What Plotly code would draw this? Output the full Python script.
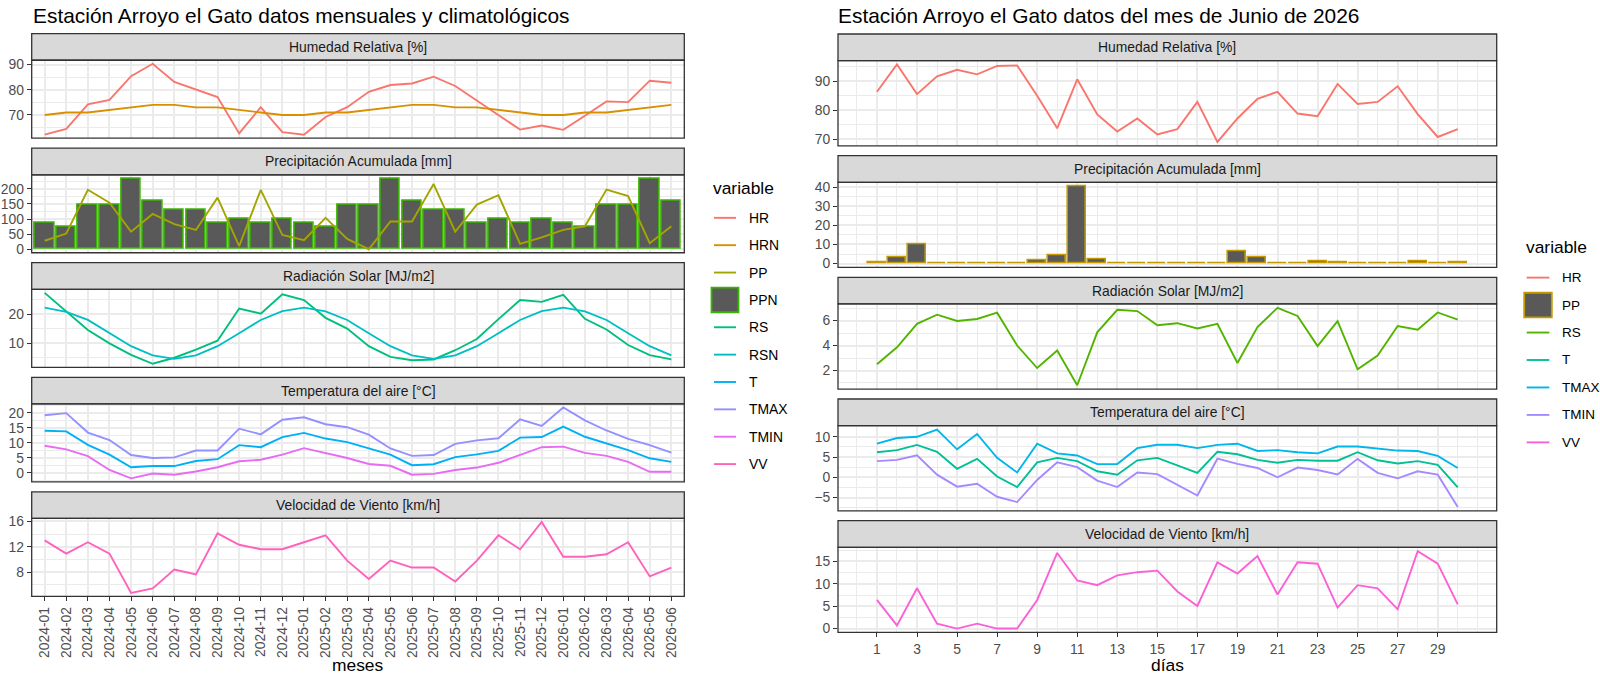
import plotly.graph_objects as go

W, H = 1600, 676

# ---------------- data: monthly panel ----------------
meses = ["2024-01", "2024-02", "2024-03", "2024-04", "2024-05", "2024-06",
         "2024-07", "2024-08", "2024-09", "2024-10", "2024-11", "2024-12",
         "2025-01", "2025-02", "2025-03", "2025-04", "2025-05", "2025-06",
         "2025-07", "2025-08", "2025-09", "2025-10", "2025-11", "2025-12",
         "2026-01", "2026-02", "2026-03", "2026-04", "2026-05", "2026-06"]

HR_m = [62.2, 64.5, 74.2, 76.0, 85.4, 90.3, 83.1, 80.0, 77.1, 62.7, 73.1, 63.2,
        62.2, 69.2, 73.1, 79.2, 81.9, 82.5, 85.2, 81.5, 75.8, 70.0, 64.2, 65.8,
        64.1, 69.7, 75.4, 75.1, 83.6, 82.8]
HRN_m = [70, 71, 71, 72, 73, 74, 74, 73, 73, 72, 71, 70,
         70, 71, 71, 72, 73, 74, 74, 73, 73, 72, 71, 70,
         70, 71, 71, 72, 73, 74]
PP_m = [28, 52, 197, 154, 58, 117, 83, 64, 171, 10, 197, 47,
        30, 104, 34, 0, 92, 92, 216, 58, 148, 179, 18, 39,
        64, 76, 198, 176, 20, 76]
PPN_m = [87, 73, 147, 147, 235, 161, 131, 131, 87, 102, 87, 102,
         87, 73, 147, 147, 235, 161, 131, 131, 87, 102, 87, 102,
         87, 73, 147, 147, 235, 161]
RS_m = [27.4, 21.1, 14.5, 9.9, 5.9, 2.8, 4.9, 7.7, 10.8, 22.0, 20.2, 26.9,
        24.9, 18.75, 15.0, 8.9, 5.2, 4.0, 4.3, 7.5, 11.4, 18.3, 24.9, 24.3,
        26.7, 18.4, 14.7, 9.3, 5.8, 4.3]
RSN_m = [22.3, 20.8, 18.0, 13.4, 8.9, 5.7, 4.5, 5.7, 8.9, 13.4, 18.0, 21.1,
         22.3, 21.0, 18.0, 13.4, 8.9, 5.7, 4.5, 5.7, 8.9, 13.4, 18.0, 21.1,
         22.3, 21.0, 18.0, 13.4, 8.9, 5.7]
TMAX_m = [19.2, 19.9, 13.4, 10.9, 5.9, 4.9, 5.1, 7.4, 7.4, 14.7, 12.8, 17.7,
          18.5, 16.2, 15.2, 12.7, 8.1, 5.6, 5.9, 9.6, 10.8, 11.5, 17.8, 15.6,
          21.8, 17.5, 14.1, 11.3, 9.2, 6.7]
T_m = [14.0, 13.8, 9.3, 6.0, 1.8, 2.2, 2.2, 3.9, 4.5, 9.2, 8.5, 11.9,
       13.3, 11.4, 10.2, 8.2, 6.0, 2.5, 2.8, 5.2, 6.1, 7.3, 11.7, 11.9,
       15.4, 12.0, 9.8, 7.5, 4.8, 3.6]
TMIN_m = [9.0, 7.8, 5.5, 0.9, -1.9, -0.3, -0.7, 0.4, 1.8, 3.8, 4.3, 6.0,
          8.2, 6.6, 4.9, 2.9, 2.3, -0.7, -0.4, 0.9, 1.7, 3.3, 5.9, 8.5,
          8.7, 6.6, 5.6, 3.6, 0.3, 0.3]
VV_m = [13.0, 10.9, 12.7, 10.9, 4.7, 5.4, 8.4, 7.6, 14.1, 12.3, 11.6, 11.6,
        12.7, 13.8, 9.8, 6.9, 9.8, 8.7, 8.7, 6.5, 9.8, 13.8, 11.6, 15.9,
        10.4, 10.4, 10.8, 12.7, 7.3, 8.7]

# ---------------- data: daily panel (June 2026) ----------------
dias = [1, 2, 3, 4, 5, 6, 7, 8, 9, 10, 11, 12, 13, 14, 15,
        16, 17, 18, 19, 20, 21, 22, 23, 24, 25, 26, 27, 28, 29, 30]
dias_ticks = [1, 3, 5, 7, 9, 11, 13, 15, 17, 19, 21, 23, 25, 27, 29]

HR_d = [86.4, 95.8, 85.6, 91.7, 94.0, 92.4, 95.3, 95.5, 85.0, 73.8, 90.7, 78.6,
        72.7, 77.2, 71.7, 73.5, 82.9, 69.1, 77.2, 84.0, 86.4, 78.9, 78.0, 89.1,
        82.2, 82.9, 88.3, 78.7, 70.8, 73.5]
PP_d = [0.9, 3.1, 10.0, 0, 0, 0, 0, 0, 1.9, 4.3, 40.5, 2.4,
        0, 0, 0, 0, 0, 0, 6.4, 3.3, 0, 0, 1.4, 0.6,
        0.4, 0.4, 0, 1.0, 0, 0.5]
RS_d = [2.5, 3.86, 5.74, 6.47, 5.97, 6.13, 6.63, 4.0, 2.2, 3.6, 0.82, 5.06,
        6.86, 6.76, 5.63, 5.79, 5.37, 5.74, 2.6, 5.48, 7.02, 6.37, 3.96, 5.95,
        2.1, 3.2, 5.56, 5.27, 6.65, 6.08]
T_d = [6.2, 6.7, 8.0, 6.3, 2.1, 4.55, 0.2, -2.4, 3.7, 4.8, 4.0, 1.5,
       0.65, 4.2, 4.8, 3.0, 1.1, 6.3, 5.7, 4.3, 3.6, 4.3, 4.1, 4.1,
       6.2, 4.2, 3.4, 4.0, 3.1, -2.5]
TMAX_d = [8.3, 9.7, 10.0, 11.8, 6.9, 10.7, 4.8, 1.2, 8.3, 5.9, 5.4, 3.25,
          3.3, 7.2, 8.05, 8.05, 7.2, 8.0, 8.3, 6.5, 6.7, 6.2, 5.9, 7.6,
          7.6, 7.1, 6.6, 6.5, 5.3, 2.3]
TMIN_d = [4.0, 4.3, 5.45, 0.65, -2.3, -1.6, -4.8, -6.1, -0.65, 3.7, 2.5, -0.8,
          -2.4, 1.2, 0.8, -1.8, -4.5, 4.6, 3.3, 2.3, 0.0, 2.4, 1.8, 0.7,
          4.55, 1.1, -0.25, 1.5, 0.65, -7.3]
VV_d = [6.4, 0.7, 9.0, 1.1, 0.0, 1.1, 0.0, 0.0, 6.4, 16.9, 10.75, 9.7,
        11.9, 12.6, 12.95, 8.3, 5.05, 14.8, 12.3, 16.2, 7.6, 14.8, 14.5, 4.7,
        9.7, 9.0, 4.3, 17.3, 14.5, 5.4]

# ---------------- text ----------------
title_left = "Estación Arroyo el Gato datos mensuales y climatológicos"
title_right = "Estación Arroyo el Gato datos del mes de Junio de 2026"
strip_labels = ["Humedad Relativa [%]", "Precipitación Acumulada [mm]",
                "Radiación Solar [MJ/m2]", "Temperatura del aire [°C]",
                "Velocidad de Viento [km/h]"]
legend_left = ["HR", "HRN", "PP", "PPN", "RS", "RSN", "T", "TMAX", "TMIN", "VV"]
legend_right = ["HR", "PP", "RS", "T", "TMAX", "TMIN", "VV"]

col_left = {"HR": "#F8766D", "HRN": "#D89000", "PP": "#A3A500", "PPN": "#39B600",
            "RS": "#00BF7D", "RSN": "#00BFC4", "T": "#00B0F6", "TMAX": "#9590FF",
            "TMIN": "#E76BF3", "VV": "#FF62BC"}
col_right = {"HR": "#F8766D", "PP": "#C49A00", "RS": "#53B400", "T": "#00C094",
             "TMAX": "#00B6EB", "TMIN": "#A58AFF", "VV": "#FB61D7"}

FONT = "Liberation Sans, Arial, Helvetica, sans-serif"
BAR_FILL = "#595959"
GRID = "#EBEBEB"
DARK = "#333333"
TICKC = "#4D4D4D"
SMALL = 13.9
BASE = 17.4
TITLE = 20.9
LW = 1.9


def fx(px):
    return px / W


def fy(py):
    return 1 - py / H


def erange(vals, include_zero=False):
    lo, hi = min(vals), max(vals)
    if include_zero:
        lo = min(lo, 0)
    d = (hi - lo) * 0.05
    return [lo - d, hi + d]


# ---------------- geometry (pixels) ----------------
LX0, LX1 = 31.7, 684.3
RX0, RX1 = 838.0, 1496.7
L_tops = [29.0, 145.1, 261.2, 377.3, 493.4]
R_tops = [29.4, 152.7, 276.0, 399.3, 522.6]
STRIP_H = 27.0
L_PH = 79.0
R_PH = 86.3

fig = go.Figure()
shapes = []
annotations = []
layout_axes = {}

left_series = [
    [("HR", HR_m, "line"), ("HRN", HRN_m, "line")],
    [("PPN", PPN_m, "bar"), ("PP", PP_m, "line")],
    [("RS", RS_m, "line"), ("RSN", RSN_m, "line")],
    [("T", T_m, "line"), ("TMAX", TMAX_m, "line"), ("TMIN", TMIN_m, "line")],
    [("VV", VV_m, "line")],
]
right_series = [
    [("HR", HR_d, "line")],
    [("PP", PP_d, "bar")],
    [("RS", RS_d, "line")],
    [("T", T_d, "line"), ("TMAX", TMAX_d, "line"), ("TMIN", TMIN_d, "line")],
    [("VV", VV_d, "line")],
]
left_dticks = [10, 50, 10, 5, 4]
right_dticks = [10, 10, 2, 5, 5]

tickfont = dict(family=FONT, size=SMALL, color=TICKC)

# x range for the daily panels (bars of width 0.9, 5% expansion)
dx_lo, dx_hi = min(dias) - 0.45, max(dias) + 0.45
dpad = (dx_hi - dx_lo) * 0.05
day_range = [dx_lo - dpad, dx_hi + dpad]

for side in ("L", "R"):
    tops = L_tops if side == "L" else R_tops
    ph = L_PH if side == "L" else R_PH
    x0, x1 = (LX0, LX1) if side == "L" else (RX0, RX1)
    series = left_series if side == "L" else right_series
    dticks = left_dticks if side == "L" else right_dticks
    cols = col_left if side == "L" else col_right
    xs = meses if side == "L" else dias
    for i in range(5):
        n = i + 1 if side == "L" else i + 6
        xa = "x" if n == 1 else f"x{n}"
        ya = "y" if n == 1 else f"y{n}"
        st = tops[i]
        pt = st + STRIP_H
        pb = pt + ph
        bottom = (i == 4)
        vals_all = []
        has_bar = False
        for name, vals, kind in series[i]:
            vals_all += list(vals)
            if kind == "bar":
                has_bar = True
                fig.add_trace(go.Bar(
                    x=xs, y=vals, width=0.9, name=name, showlegend=False,
                    marker=dict(color=BAR_FILL, line=dict(color=cols[name], width=1.6)),
                    xaxis=xa, yaxis=ya))
            else:
                fig.add_trace(go.Scatter(
                    x=xs, y=vals, mode="lines", name=name, showlegend=False,
                    line=dict(color=cols[name], width=LW),
                    xaxis=xa, yaxis=ya))
        yr = erange(vals_all, include_zero=has_bar)
        xkey = "xaxis" if n == 1 else f"xaxis{n}"
        ykey = "yaxis" if n == 1 else f"yaxis{n}"
        xdict = dict(domain=[fx(x0), fx(x1)], anchor=ya, showgrid=True,
                     gridcolor=GRID, gridwidth=1.5, zeroline=False, showline=False,
                     showticklabels=bottom, ticks="outside" if bottom else "",
                     ticklen=4, tickcolor=DARK, tickwidth=1.4, tickfont=tickfont)
        if side == "L":
            xdict.update(type="category", categoryorder="array", categoryarray=meses,
                         range=[-0.6, len(meses) - 0.4], tickangle=-90)
        else:
            xdict.update(type="linear", range=day_range, tickmode="array",
                         tickvals=dias_ticks,
                         minor=dict(dtick=1, tick0=0, showgrid=True, gridcolor=GRID,
                                    gridwidth=0.8, ticks=""))
        layout_axes[xkey] = xdict
        layout_axes[ykey] = dict(
            domain=[fy(pb), fy(pt)], anchor=xa, range=yr, showgrid=True,
            gridcolor=GRID, gridwidth=1.5, zeroline=False, showline=False,
            tick0=0, dtick=dticks[i], ticks="outside", ticklen=4, tickcolor=DARK,
            tickwidth=1.4, tickfont=tickfont,
            minor=dict(dtick=dticks[i] / 2, showgrid=True, gridcolor=GRID,
                       gridwidth=0.8, ticks=""))
        # strip
        shapes.append(dict(type="rect", xref="paper", yref="paper",
                           x0=fx(x0), x1=fx(x1), y0=fy(pt), y1=fy(st),
                           fillcolor="#D9D9D9", line=dict(color=DARK, width=1.3),
                           layer="above"))
        annotations.append(dict(text=strip_labels[i], xref="paper", yref="paper",
                                x=fx((x0 + x1) / 2), y=fy((st + pt) / 2),
                                showarrow=False, xanchor="center", yanchor="middle",
                                font=dict(family=FONT, size=SMALL, color="#1A1A1A")))
        # panel border
        shapes.append(dict(type="rect", xref="paper", yref="paper",
                           x0=fx(x0), x1=fx(x1), y0=fy(pb), y1=fy(pt),
                           fillcolor="rgba(0,0,0,0)", line=dict(color=DARK, width=1.3),
                           layer="above"))

# titles
annotations.append(dict(text=title_left, xref="paper", yref="paper", x=fx(31), y=fy(11),
                        showarrow=False, xanchor="left", yanchor="middle",
                        font=dict(family=FONT, size=TITLE, color="black")))
annotations.append(dict(text=title_right, xref="paper", yref="paper", x=fx(836), y=fy(11),
                        showarrow=False, xanchor="left", yanchor="middle",
                        font=dict(family=FONT, size=TITLE, color="black")))
# axis titles
annotations.append(dict(text="meses", xref="paper", yref="paper", x=fx((LX0 + LX1) / 2),
                        y=fy(668.5), showarrow=False, xanchor="center", yanchor="middle",
                        font=dict(family=FONT, size=BASE, color="black")))
annotations.append(dict(text="días", xref="paper", yref="paper", x=fx((RX0 + RX1) / 2),
                        y=fy(668.5), showarrow=False, xanchor="center", yanchor="middle",
                        font=dict(family=FONT, size=BASE, color="black")))


# legends (drawn as keys + text)
def draw_legend(names, cols, bar_name, tx, ty, key_x0, key_x1, lab_x, y0, step, lab_size):
    annotations.append(dict(text="variable", xref="paper", yref="paper", x=fx(tx), y=fy(ty),
                            showarrow=False, xanchor="left", yanchor="middle",
                            font=dict(family=FONT, size=BASE, color="black")))
    for k, nm in enumerate(names):
        yy = y0 + k * step
        if nm == bar_name:
            shapes.append(dict(type="rect", xref="paper", yref="paper",
                               x0=fx(key_x0 - 2.5), x1=fx(key_x1 + 2.5),
                               y0=fy(yy + 12.5), y1=fy(yy - 12.5),
                               fillcolor=BAR_FILL, line=dict(color=cols[nm], width=1.8)))
        else:
            shapes.append(dict(type="line", xref="paper", yref="paper",
                               x0=fx(key_x0), x1=fx(key_x1), y0=fy(yy), y1=fy(yy),
                               line=dict(color=cols[nm], width=LW)))
        annotations.append(dict(text=nm, xref="paper", yref="paper", x=fx(lab_x), y=fy(yy),
                                showarrow=False, xanchor="left", yanchor="middle",
                                borderpad=0,
                                font=dict(family=FONT, size=lab_size, color="black")))


draw_legend(legend_left, col_left, "PPN", 710.5, 185, 714, 736, 747.5, 215.7, 27.73, SMALL)
draw_legend(legend_right, col_right, "PP", 1523.5, 245.7, 1526.7, 1549.3, 1560.5, 276.3,
            27.83, 13.5)

fig.update_layout(
    width=W, height=H, autosize=False,
    margin=dict(l=0, r=0, t=0, b=0),
    paper_bgcolor="white", plot_bgcolor="white",
    showlegend=False, bargap=0,
    shapes=shapes, annotations=annotations,
    font=dict(family=FONT),
    **layout_axes,
)

fig.write_html("out.html", config={"displayModeBar": False},
               post_script="document.body.style.margin='0';"
                           "document.body.style.overflow='hidden';")
